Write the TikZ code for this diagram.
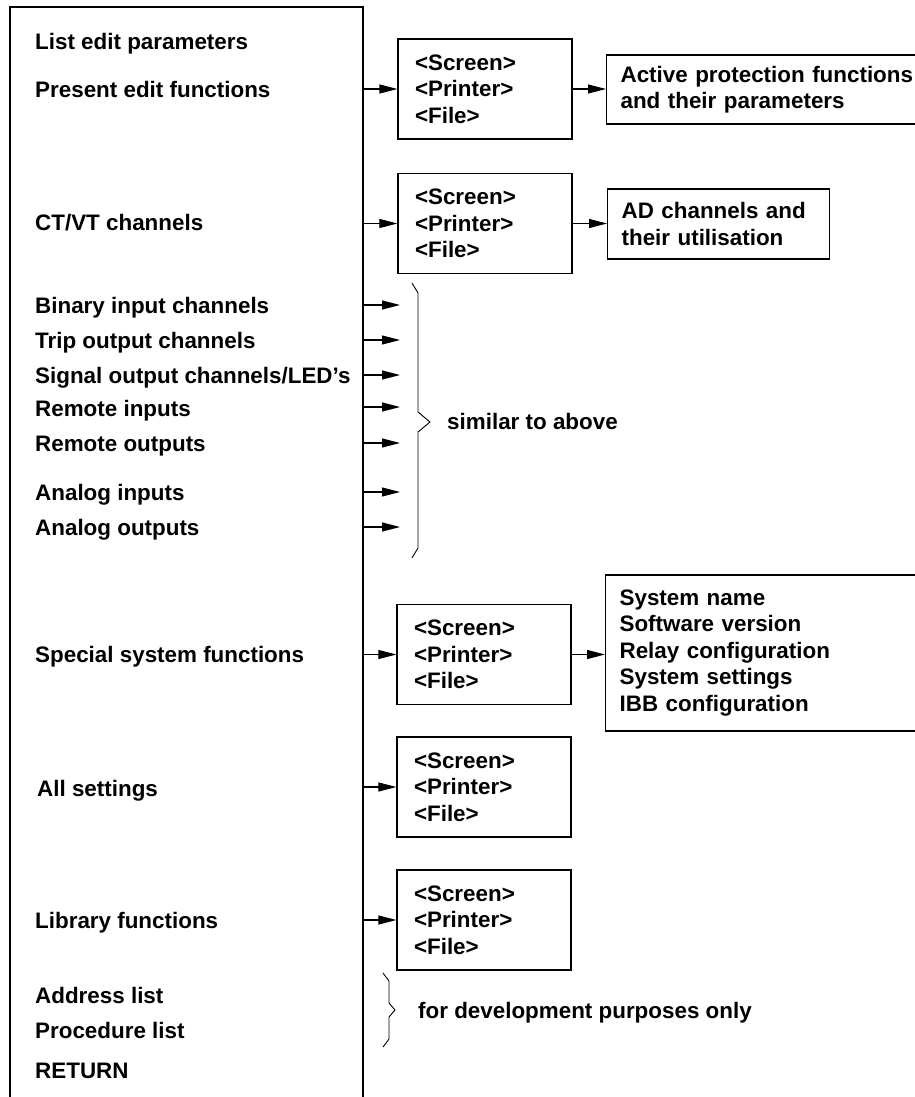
\documentclass[tikz,border=0pt]{standalone}
\usepackage{fontspec}
\setmainfont{Liberation Sans}
\usetikzlibrary{arrows.meta}
\begin{document}
\begin{tikzpicture}[x=1pt,y=-1pt,
  font=\fontsize{22.4}{26.5}\selectfont\bfseries,
  lbl/.style={anchor=base west, inner sep=0pt},
  menubox/.style={draw, line width=1.2pt, minimum width=174pt, minimum height=100pt,
    text width=140pt, inner xsep=17pt, inner ysep=0pt, align=left},
  info/.style={draw, line width=1.2pt, align=left, inner xsep=14pt, inner ysep=0pt, anchor=west},
  arr/.style={line width=1.1pt, -{Triangle[length=18pt,width=9pt]}},
  bracepath/.style={line width=0.9pt, line join=miter}]
\useasboundingbox (0,0) rectangle (914,1097);
% main menu frame (open at the bottom)
\draw[line width=1.2pt] (10,1110) -- (10,7) -- (363,7) -- (363,1110);
\coordinate (bigR) at (363,0);
% left labels
\node[lbl] (l1)  at (35,50)   {List edit parameters};
\node[lbl] (l2)  at (35,98)   {Present edit functions};
\node[lbl] (l3)  at (35,230)  {CT/VT channels};
\node[lbl] (l4)  at (35,313)  {Binary input channels};
\node[lbl] (l5)  at (35,348)  {Trip output channels};
\node[lbl] (l6)  at (35,383)  {Signal output channels/LED’s};
\node[lbl] (l7)  at (35,416)  {Remote inputs};
\node[lbl] (l8)  at (35,451)  {Remote outputs};
\node[lbl] (l9)  at (35,500)  {Analog inputs};
\node[lbl] (l10) at (35,535)  {Analog outputs};
\node[lbl] (l11) at (35,662)  {Special system functions};
\node[lbl] (l12) at (37,796)  {All settings};
\node[lbl] (l13) at (35,928)  {Library functions};
\node[lbl] (l14) at (35,1003) {Address list};
\node[lbl] (l15) at (35,1038) {Procedure list};
\node[lbl] (l16) at (35,1078) {RETURN};
% output selection boxes
\node[menubox] (m1) at (485,89)    {<Screen>\\<Printer>\\<File>};
\node[menubox] (m2) at (485,223.5) {<Screen>\\<Printer>\\<File>};
\node[menubox] (m4) at (484,654.5) {<Screen>\\<Printer>\\<File>};
\node[menubox] (m5) at (484,787)   {<Screen>\\<Printer>\\<File>};
\node[menubox] (m6) at (484,920)   {<Screen>\\<Printer>\\<File>};
% result boxes
\node[info, minimum height=69pt, text width=300pt] (act) at (606,89.5)
  {Active protection functions\\and their parameters};
\node[info, minimum height=70pt, text width=194pt] (ad) at (607,224)
  {AD channels and\\their utilisation};
\node[info, minimum height=156pt, text width=300pt] (sys) at (605,653)
  {System name\\Software version\\Relay configuration\\System settings\\IBB configuration};
% arrows from the menu
\foreach \m in {m1,m2,m4,m5,m6}
  \draw[arr] (\m.west -| bigR) -- (\m.west);
\draw[arr] (m1.east) -- (m1.east -| act.west);
\draw[arr] (m2.east) -- (m2.east -| ad.west);
\draw[arr] (m4.east) -- (m4.east -| sys.west);
% arrows to "similar to above"
\foreach \y [count=\i] in {305,340,375,407,443,492,527}{
  \coordinate (t\i) at (400,\y);
  \draw[arr] (t\i -| bigR) -- (t\i);
}
% braces
\draw[bracepath] (412,283) -- (418,293) -- (418,412) -- (430,422) -- (418,432) -- (418,548) -- (412,558);
\node[lbl] (sim) at (447,429) {similar to above};
\draw[bracepath] (383,973) -- (389,981) -- (389,1003) -- (395,1010) -- (389,1017) -- (389,1039) -- (383,1047);
\node[lbl] (dev) at (418,1018) {for development purposes only};
\end{tikzpicture}
\end{document}
